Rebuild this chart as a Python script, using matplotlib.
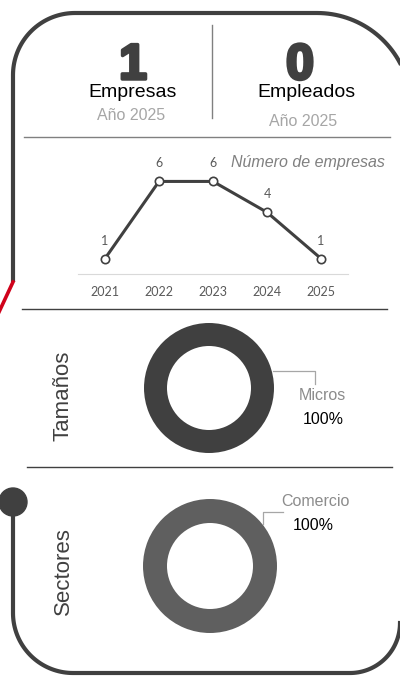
import numpy as np
import matplotlib
matplotlib.use("Agg")
import matplotlib.pyplot as plt
import matplotlib.patheffects as pe
from matplotlib.patches import Circle

# header figures
n_empresas = 1
n_empleados = 0
anio = 2025

# yearly number of companies
years = ["2021", "2022", "2023", "2024", "2025"]
empresas = [1, 6, 6, 4, 1]

# size and sector shares
tamanos_labels = ["Micros"]
tamanos_values = [100]
sectores_labels = ["Comercio"]
sectores_values = [100]

W, H = 400, 676
DARK = "#404040"
ARIAL = ["Liberation Sans", "DejaVu Sans"]
CAL = ["Lato", "DejaVu Sans"]

fig = plt.figure(figsize=(W / 100, H / 100), dpi=100)

# overlay in pixel coordinates for frame and text
bg = fig.add_axes([0, 0, 1, 1])
bg.set_xlim(0, W)
bg.set_ylim(H, 0)
bg.axis("off")


def arc(cx, cy, r, a0, a1, n=40):
    t = np.linspace(a0, a1, n)
    return cx + r * np.cos(t), cy + r * np.sin(t)


# top part of the frame
xs, ys = [13], [282]
ax_, ay_ = arc(75, 75, 62, np.pi, 1.5 * np.pi)
xs += list(ax_); ys += list(ay_)
ax_, ay_ = arc(317, 107, 94, 1.5 * np.pi, 2.0 * np.pi)
xs += list(ax_); ys += list(ay_)
bg.plot(xs, ys, color=DARK, lw=3, solid_capstyle="butt")
bg.plot([13, -1], [282, 312], color="#d0021b", lw=2.6)

# bottom part of the frame
xs, ys = [13], [502]
ax_, ay_ = arc(73, 613, 60, np.pi, 0.5 * np.pi)
xs += list(ax_); ys += list(ay_)
ax_, ay_ = arc(350, 623, 50, 0.5 * np.pi, 0)
xs += list(ax_); ys += list(ay_)
bg.plot(xs, ys, color=DARK, lw=3)
bg.add_patch(Circle((13, 502), 14, color=DARK))

# separators
bg.plot([212, 212], [25, 118], color="#808080", lw=1)
bg.plot([24, 390], [137, 137], color="#808080", lw=1)
bg.plot([22, 387], [309, 309], color=DARK, lw=1)
bg.plot([27, 392], [467, 467], color=DARK, lw=1)

# header
heavy = [pe.withStroke(linewidth=2.5, foreground=DARK)]
bg.text(133, 79, str(n_empresas), ha="center", va="baseline", fontsize=36,
        fontweight="bold", color=DARK, family=ARIAL, path_effects=heavy)
bg.text(300, 79, str(n_empleados), ha="center", va="baseline", fontsize=36,
        fontweight="bold", color=DARK, family=ARIAL, path_effects=heavy)
bg.text(133, 97, "Empresas", ha="center", va="baseline", fontsize=14,
        color="black", family=ARIAL)
bg.text(306, 97, "Empleados", ha="center", va="baseline", fontsize=14,
        color="black", family=ARIAL)
bg.text(131, 120, f"Año {anio}", ha="center", va="baseline", fontsize=11.5,
        color="#a6a6a6", family=ARIAL)
bg.text(303, 126, f"Año {anio}", ha="center", va="baseline", fontsize=11.5,
        color="#a6a6a6", family=ARIAL)
bg.text(385, 167, "Número de empresas", ha="right", va="baseline",
        fontsize=11.5, style="italic", color="#808080", family=ARIAL)

# line chart
lx0, lx1, ly0, ly1 = 78, 348, 274, 166
ax = fig.add_axes([lx0 / W, 1 - ly0 / H, (lx1 - lx0) / W, (ly0 - ly1) / H])
x = np.arange(len(years))
ax.plot(x, empresas, color=DARK, lw=2.2, marker="o", ms=6,
        mfc="white", mec=DARK, mew=1.2, zorder=3, clip_on=False)
for xi, v in zip(x, empresas):
    ax.annotate(str(v), (xi, v), xytext=(0, 13), textcoords="offset points",
                ha="center", va="center", fontsize=9, color="#595959",
                family=CAL)
ax.set_xlim(-0.5, len(years) - 0.5)
ax.set_ylim(0, 7)
ax.set_xticks(x)
ax.set_xticklabels(years, fontsize=9, color="#595959", family=CAL)
ax.tick_params(axis="x", length=0, pad=9)
ax.set_yticks([])
for s in ["top", "right", "left"]:
    ax.spines[s].set_visible(False)
ax.spines["bottom"].set_color("#d9d9d9")
ax.patch.set_alpha(0)


def donut(cx, cy, r, rin, values, color):
    a = fig.add_axes([(cx - r) / W, 1 - (cy + r) / H, 2 * r / W, 2 * r / H])
    a.pie(values, colors=[color], startangle=90, counterclock=False,
          radius=1, wedgeprops=dict(width=1 - rin / r, linewidth=0))
    a.set_xlim(-1, 1)
    a.set_ylim(-1, 1)
    a.axis("off")
    return a


# tamaños donut
donut(209, 388, 65, 42, tamanos_values, DARK)
bg.plot([273, 315, 315], [371, 371, 384], color="#a6a6a6", lw=0.9)
bg.text(322, 396, tamanos_labels[0], ha="center", va="center", fontsize=11.5,
        color="#8c8c8c", family=ARIAL)
bg.text(323, 419, f"{tamanos_values[0]}%", ha="center", va="center",
        fontsize=11.5, color="black", family=ARIAL)
bg.text(63, 396, "Tamaños", ha="center", va="center", rotation=90,
        fontsize=16, color=DARK, family=ARIAL)

# sectores donut
donut(210, 566, 67, 43, sectores_values, "#5f5f5f")
bg.plot([263, 263, 283], [524, 512, 512], color="#a6a6a6", lw=0.9)
bg.text(315, 502, sectores_labels[0], ha="center", va="center", fontsize=11.5,
        color="#8c8c8c", family=ARIAL)
bg.text(313, 525, f"{sectores_values[0]}%", ha="center", va="center",
        fontsize=11.5, color="black", family=ARIAL)
bg.text(63, 571, "Sectores", ha="center", va="center", rotation=90,
        fontsize=16, color=DARK, family=ARIAL)

fig.savefig("out.png", dpi=100)
